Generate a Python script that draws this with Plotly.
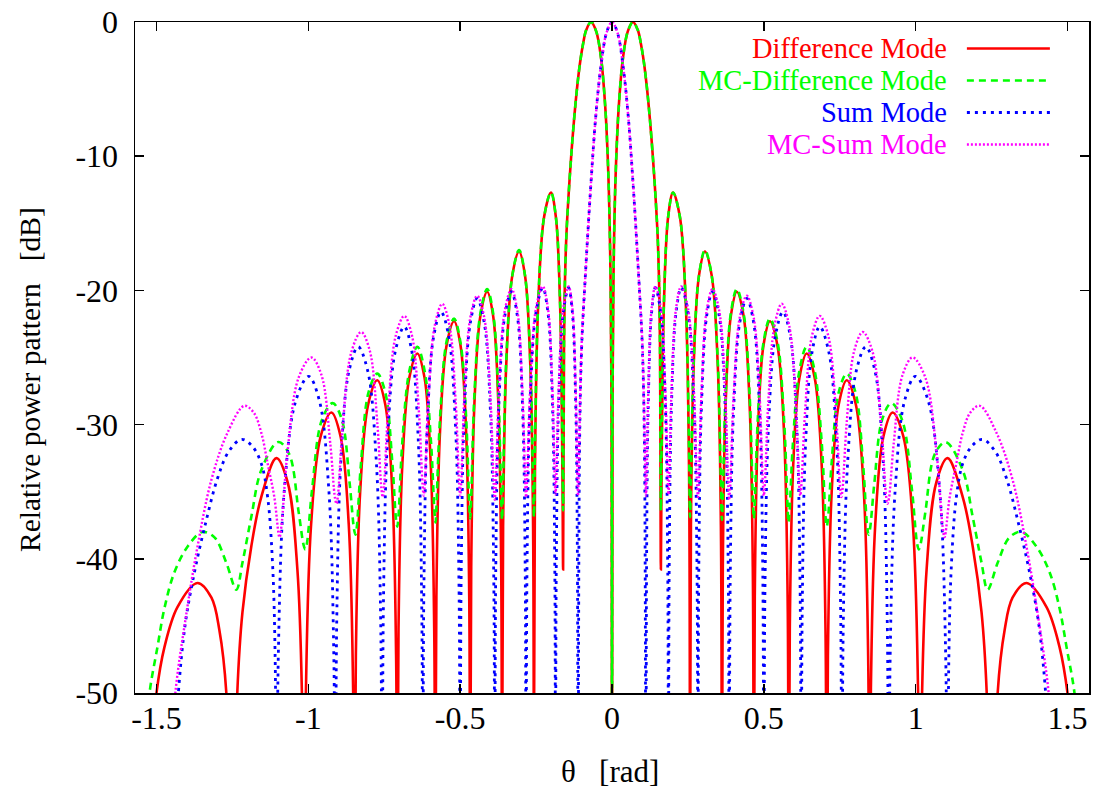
import plotly.graph_objects as go

# ---------------- data (right half, theta >= 0; pattern is symmetric) ----------------
diff_theta_r = [
    0, 0.002, 0.006, 0.012, 0.022, 0.036, 0.052, 0.069,
    0.085, 0.095, 0.105, 0.115, 0.125, 0.135, 0.143, 0.150, 0.155, 0.158, 0.161,
    0.1634, 0.171, 0.185, 0.201, 0.2234, 0.243, 0.2536, 0.257,
    0.2599, 0.2693, 0.2864, 0.306, 0.3284, 0.348, 0.3586, 0.362,
    0.3649, 0.3743, 0.3914, 0.411, 0.4334, 0.453, 0.4636, 0.467,
    0.4702, 0.4803, 0.4988, 0.520, 0.5448, 0.5665, 0.5783, 0.582,
    0.5855, 0.5968, 0.6174, 0.641, 0.6674, 0.6905, 0.703, 0.707,
    0.711, 0.7235, 0.7466, 0.773, 0.803, 0.8293, 0.8435, 0.848,
    0.8526, 0.867, 0.8936, 0.924, 0.9596, 0.9908, 1.0077, 1.013,
    1.0185, 1.036, 1.068, 1.105, 1.155, 1.188, 1.217, 1.234, 1.252,
    1.270, 1.293, 1.319, 1.365, 1.431, 1.474, 1.50, 1.53,
]
diff_db_r = [
    -80, -27, -17.3, -11.4, -6.4, -2.7, -0.7, 0,
    -0.6, -1.6, -3.0, -4.9, -7.3, -10.2, -12.9, -15.8, -19.4, -24, -40.8,
    -33.2, -21.0, -14.5, -12.7, -14.5, -21.0, -33.2, -70,
    -37.6, -25.4, -18.9, -17.1, -18.9, -25.4, -37.6, -70,
    -40.6, -28.4, -21.9, -20.1, -21.9, -28.4, -40.6, -70,
    -42.8, -30.6, -24.1, -22.3, -24.1, -30.6, -42.8, -70,
    -45.2, -33.0, -26.5, -24.7, -26.5, -33.0, -45.2, -70,
    -47.2, -35.0, -28.5, -26.7, -28.5, -35.0, -47.2, -70,
    -49.6, -37.4, -30.9, -29.1, -30.9, -37.4, -49.6, -70,
    -53.0, -40.8, -34.3, -32.5, -35.4, -39.1, -44.0, -50, -70,
    -50, -45.3, -42.9, -41.8, -43.6, -46.6, -50, -58,
]

mcdiff_theta_r = [
    0, 0.002, 0.006, 0.012, 0.022, 0.036, 0.052, 0.069,
    0.085, 0.095, 0.105, 0.115, 0.125, 0.135, 0.143, 0.150, 0.155, 0.158, 0.161,
    0.1634, 0.171, 0.185, 0.201, 0.2234, 0.243, 0.2536, 0.257,
    0.2599, 0.2693, 0.2864, 0.306, 0.3284, 0.348, 0.3586, 0.362,
    0.3649, 0.3743, 0.3914, 0.411, 0.4334, 0.453, 0.4636, 0.467,
    0.4702, 0.4803, 0.4988, 0.520, 0.5448, 0.5665, 0.5783, 0.581,
    0.5846, 0.596, 0.617, 0.641, 0.6674, 0.6905, 0.703, 0.707,
    0.711, 0.7235, 0.7466, 0.773, 0.8018, 0.827, 0.8407, 0.845,
    0.8495, 0.8638, 0.89, 0.92, 0.956, 0.9875, 1.0046, 1.01,
    1.0153, 1.032, 1.063, 1.099, 1.155, 1.188, 1.217, 1.237,
    1.270, 1.309, 1.349, 1.398, 1.441, 1.474, 1.497, 1.523, 1.545,
]
mcdiff_db_r = [
    -80, -27, -17.3, -11.4, -6.4, -2.7, -0.7, 0,
    -0.6, -1.6, -3.0, -4.9, -7.3, -10.2, -12.9, -15.8, -19.4, -24, -36.4,
    -31.5, -20.9, -14.5, -12.7, -14.5, -20.9, -31.6, -36.9,
    -34.2, -25.1, -18.9, -17.0, -18.9, -25.1, -34.3, -37.1,
    -35.4, -27.7, -21.7, -19.9, -21.7, -27.7, -35.4, -37.0,
    -35.9, -29.5, -23.9, -22.1, -23.8, -29.6, -36.2, -37.3,
    -36.5, -31.3, -26.0, -24.2, -26.0, -31.3, -36.8, -37.6,
    -37.1, -32.8, -27.6, -26.2, -27.6, -33.0, -37.7, -38.2,
    -37.8, -34.4, -29.6, -28.4, -29.7, -34.8, -38.85, -39.3,
    -39.0, -36.5, -32.2, -31.3, -33.4, -36.9, -40.3, -42.3,
    -40.3, -38.4, -38.0, -39.1, -41.0, -43.7, -46.6, -50, -56,
]

sum_theta_r = [
    0, 0.018, 0.036, 0.053, 0.069, 0.089, 0.100, 0.107, 0.112,
    0.1139, 0.1198, 0.1306, 0.143, 0.1602, 0.1753, 0.1834, 0.186,
    0.1885, 0.1965, 0.2112, 0.228, 0.250, 0.2693, 0.2797, 0.283,
    0.2859, 0.295, 0.3118, 0.331, 0.353, 0.3723, 0.3827, 0.386,
    0.3895, 0.4005, 0.4208, 0.444, 0.4664, 0.486, 0.4966, 0.500,
    0.5038, 0.5158, 0.5378, 0.563, 0.587, 0.608, 0.6194, 0.623,
    0.6267, 0.6383, 0.6596, 0.684, 0.7132, 0.7388, 0.7526, 0.757,
    0.7617, 0.7768, 0.8044, 0.836, 0.866, 0.8923, 0.9065, 0.911,
    0.9163, 0.933, 0.9638, 0.999, 1.041, 1.0785, 1.0986, 1.105,
    1.109, 1.118, 1.134, 1.155, 1.185, 1.220, 1.262, 1.299, 1.340, 1.375, 1.405, 1.428, 1.445,
]
sum_db_r = [
    0, -0.8, -3.2, -6.9, -11.9, -19.4, -24.3, -32, -70,
    -40.3, -28.1, -21.6, -19.8, -21.6, -28.1, -40.3, -70,
    -40.3, -28.1, -21.6, -19.8, -21.6, -28.1, -40.3, -70,
    -40.6, -28.4, -21.9, -20.1, -21.9, -28.4, -40.6, -70,
    -41.1, -28.9, -22.4, -20.6, -22.4, -28.9, -41.1, -70,
    -42.1, -29.9, -23.4, -21.6, -23.4, -29.9, -42.1, -70,
    -43.2, -31.0, -24.5, -22.7, -24.5, -31.0, -43.2, -70,
    -44.7, -32.5, -26.0, -24.2, -26.0, -32.5, -44.7, -70,
    -46.9, -34.7, -28.2, -26.4, -28.2, -34.7, -46.9, -70,
    -47.8, -40.3, -35.4, -32.9, -31.6, -31.1, -32.0, -34.0, -37.5, -41.0, -44.8, -50, -57,
]

mcsum_theta_r = [
    0, 0.018, 0.036, 0.053, 0.069, 0.089, 0.100, 0.107, 0.112,
    0.1139, 0.1198, 0.1306, 0.143, 0.1602, 0.1753, 0.1834, 0.186,
    0.1885, 0.1965, 0.2112, 0.228, 0.250, 0.2693, 0.2797, 0.283,
    0.2859, 0.295, 0.3118, 0.331, 0.353, 0.3723, 0.3827, 0.386,
    0.3895, 0.4005, 0.4208, 0.444, 0.4664, 0.486, 0.4966, 0.500,
    0.5035, 0.5148, 0.5354, 0.559, 0.5834, 0.6048, 0.6163, 0.620,
    0.6238, 0.636, 0.6584, 0.684, 0.7124, 0.7373, 0.7507, 0.755,
    0.7593, 0.7728, 0.7976, 0.826, 0.8584, 0.8868, 0.9021, 0.907,
    0.912, 0.9278, 0.9568, 0.990, 1.032, 1.0688, 1.0887, 1.095,
    1.112, 1.134, 1.155, 1.180, 1.211, 1.266, 1.319, 1.365, 1.401, 1.438, 1.455,
]
mcsum_db_r = [
    0, -0.8, -3.2, -6.9, -11.9, -19.4, -24.0, -30.5, -35.3,
    -34.1, -27.3, -21.3, -19.7, -21.3, -27.2, -34.0, -35.2,
    -34.0, -27.2, -21.3, -19.7, -21.3, -27.3, -34.2, -35.4,
    -34.2, -27.5, -21.5, -19.9, -21.5, -27.5, -34.4, -35.6,
    -34.5, -27.9, -22.0, -20.4, -22.0, -27.8, -34.3, -35.3,
    -34.4, -28.3, -22.6, -21.0, -22.6, -28.3, -34.4, -35.3,
    -34.5, -29.0, -23.4, -21.9, -23.4, -29.0, -34.6, -35.4,
    -34.8, -29.9, -24.5, -23.1, -24.6, -30.1, -35.2, -35.9,
    -35.5, -31.4, -26.3, -25.0, -26.5, -32.1, -37.6, -38.4,
    -35.4, -32.9, -30.6, -29.1, -28.6, -30.6, -34.1, -39.1, -44.0, -50, -56,
]

series_names = ["Difference Mode", "MC-Difference Mode", "Sum Mode", "MC-Sum Mode"]
x_ticks = [-1.5, -1, -0.5, 0, 0.5, 1, 1.5]
x_tick_text = ["-1.5", "-1", "-0.5", "0", "0.5", "1", "1.5"]
y_ticks = [0, -10, -20, -30, -40, -50]
y_tick_text = ["0", "-10", "-20", "-30", "-40", "-50"]
x_title = "θ   [rad]"
y_title = "Relative power pattern   [dB]"


def mirror(theta_r, db_r):
    """Full symmetric pattern from the theta >= 0 half."""
    th = [-t for t in reversed(theta_r[1:])] + list(theta_r)
    db = list(reversed(db_r[1:])) + list(db_r)
    return th, db


colors = ["#ff0000", "#00ff00", "#0000ff", "#ff00ff"]
dashes = ["solid", "7px,5px", "3px,5px", "2px,2px"]
widths = [2.6, 2.6, 2.8, 2.4]
data = [
    (diff_theta_r, diff_db_r),
    (mcdiff_theta_r, mcdiff_db_r),
    (sum_theta_r, sum_db_r),
    (mcsum_theta_r, mcsum_db_r),
]

fig = go.Figure()
for (th_r, db_r), name, c, d, w in zip(data, series_names, colors, dashes, widths):
    th, db = mirror(th_r, db_r)
    fig.add_trace(go.Scatter(
        x=th, y=db, mode="lines", name=name,
        line=dict(color=c, dash=d, width=w, shape="spline", smoothing=1.0),
        showlegend=False, hoverinfo="skip",
    ))

FONT = "Liberation Serif, Times New Roman, serif"

# gnuplot-style key: text on the left (right-aligned), line sample on the right
legend_y = [0.9605, 0.9128, 0.8651, 0.8174]
annotations = []
shapes = []
for name, c, d, w, yy in zip(series_names, colors, dashes, widths, legend_y):
    annotations.append(dict(
        x=0.852, y=yy, xref="paper", yref="paper", xanchor="right", yanchor="middle",
        text=name, showarrow=False, borderpad=0,
        font=dict(family=FONT, size=28.5, color=c),
    ))
    shapes.append(dict(
        type="line", xref="paper", yref="paper", x0=0.872, x1=0.959, y0=yy, y1=yy,
        line=dict(color=c, dash=d, width=w),
    ))

# axis titles
annotations.append(dict(
    x=0.498, y=-0.1177, xref="paper", yref="paper", xanchor="center", yanchor="middle",
    text=x_title, showarrow=False, font=dict(family=FONT, size=31, color="black"),
))
annotations.append(dict(
    x=-0.110, y=0.4665, xref="paper", yref="paper", xanchor="center", yanchor="middle",
    text=y_title, textangle=-90, showarrow=False,
    font=dict(family=FONT, size=29.5, color="black"),
))

axis_common = dict(
    showline=True, linecolor="black", linewidth=1.5, mirror="ticks",
    ticks="inside", ticklen=9, tickwidth=1.5, tickcolor="black",
    showgrid=False, zeroline=False, automargin=False,
    ticklabeloverflow="allow",
    tickfont=dict(family=FONT, size=32, color="black"),
)

fig.update_layout(
    width=1098, height=796,
    margin=dict(l=135, r=9, t=22, b=103),
    paper_bgcolor="white", plot_bgcolor="white",
    font=dict(family=FONT, size=32, color="black"),
    showlegend=False,
    annotations=annotations,
    shapes=shapes,
    xaxis=dict(
        range=[-1.5708, 1.5708], tickvals=x_ticks, ticktext=x_tick_text,
        ticklabelstandoff=-4,
        **axis_common,
    ),
    yaxis=dict(
        range=[-50, 0], tickvals=y_ticks, ticktext=y_tick_text,
        ticklabelstandoff=9,
        **axis_common,
    ),
)

# remove the default 8px page margin so the 1098x796 figure fills the window exactly
fig.write_html(
    "out.html",
    config={"displayModeBar": False, "staticPlot": True},
    post_script="document.body.style.margin='0px'; document.body.style.overflow='hidden';",
)
